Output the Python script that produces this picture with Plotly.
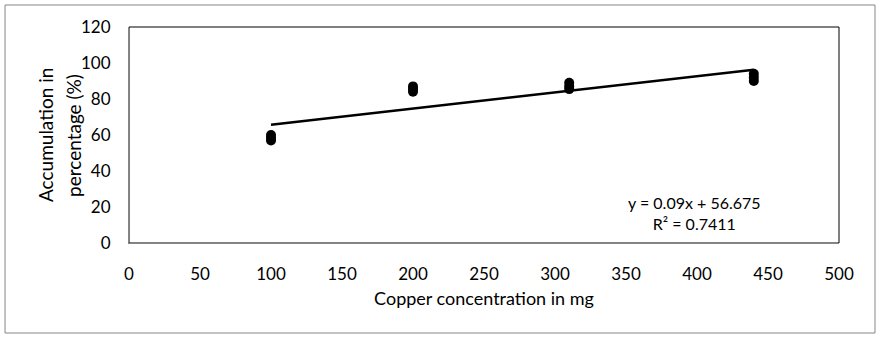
import plotly.graph_objects as go

# Data
copper_mg = [100, 100, 100, 200, 200, 200, 310, 310, 310, 440, 440, 440]
accumulation_pct = [57, 58.5, 60, 84, 85.5, 87, 85.5, 87, 89, 90, 92, 94]

trend_slope = 0.09
trend_intercept = 56.675
trend_r2 = 0.7411
trend_x = [min(copper_mg), max(copper_mg)]
trend_y = [trend_slope * x + trend_intercept for x in trend_x]

x_ticks = [0, 50, 100, 150, 200, 250, 300, 350, 400, 450, 500]
y_ticks = [0, 20, 40, 60, 80, 100, 120]
y_title_lines = ["Accumulation in", "percentage (%)"]

FONT = "Lato, Carlito, Calibri, 'Noto Sans', sans-serif"

fig = go.Figure()
fig.add_trace(go.Scatter(
    x=copper_mg, y=accumulation_pct, mode="markers",
    marker=dict(color="black", size=10, line=dict(width=0)),
    showlegend=False, hoverinfo="skip"))
fig.add_trace(go.Scatter(
    x=trend_x, y=trend_y, mode="lines",
    line=dict(color="black", width=2.5),
    showlegend=False, hoverinfo="skip"))

annotations = [dict(
    x=398, y=16.7, xref="x", yref="y",
    text=f"y = {trend_slope}x + {trend_intercept}<br>R² = {trend_r2}",
    showarrow=False, align="center", font=dict(size=16))]
for xp, line in zip([-0.1183, -0.0789], y_title_lines):
    annotations.append(dict(
        x=xp, y=0.5, xref="paper", yref="paper", text=line, textangle=-90,
        showarrow=False, xanchor="center", yanchor="middle", font=dict(size=19)))

fig.update_layout(
    width=883, height=340,
    margin=dict(l=129, r=44, t=27, b=97),
    paper_bgcolor="white", plot_bgcolor="white",
    font=dict(family=FONT, size=16, color="black"),
    xaxis=dict(range=[0, 500], tickvals=x_ticks, showgrid=False, zeroline=False,
               showline=True, linecolor="#868686", linewidth=1,
               ticks="", tickfont=dict(size=17), ticklabelstandoff=16,
               title=dict(text="Copper concentration in mg", font=dict(size=18), standoff=8)),
    yaxis=dict(range=[0, 120], tickvals=y_ticks, showgrid=False, zeroline=False,
               showline=True, linecolor="#868686", linewidth=1,
               ticks="", tickfont=dict(size=17), ticklabelstandoff=14),
    shapes=[
        dict(type="rect", xref="paper", yref="paper", x0=0, x1=1, y0=0, y1=1,
             line=dict(color="black", width=1), layer="below"),
        dict(type="rect", xref="paper", yref="paper",
             x0=-0.1746, x1=1.0507, y0=-0.4167, y1=1.1019,
             line=dict(color="#868686", width=1)),
    ],
    annotations=annotations,
)

fig.write_html("out.html")
